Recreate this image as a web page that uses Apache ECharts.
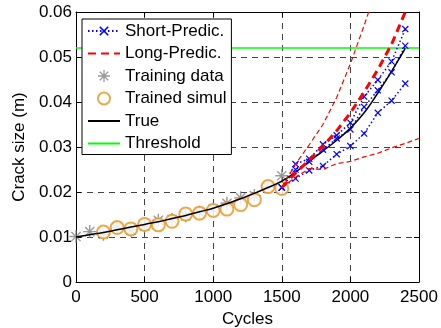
<!DOCTYPE html>
<html>
<head>
<meta charset="utf-8">
<script src="https://cdn.jsdelivr.net/npm/echarts@6/dist/echarts.min.js"></script>
<style>
html, body { margin: 0; padding: 0; background: #fff; }
#chart { width: 441px; height: 328px; }
</style>
</head>
<body>
<div id="chart"></div>
<script>
// training measurements (gray stars)
var trainCycles = [0, 100, 200, 300, 400, 500, 600, 700, 800, 900, 1000, 1100, 1200, 1300, 1400, 1500];
var trainData = [0.0101, 0.0112, 0.0106, 0.0121, 0.0115, 0.0124, 0.0137, 0.0139, 0.0147, 0.0155, 0.0162, 0.0175, 0.0187, 0.0192, 0.0211, 0.0236];

// trained simulation (orange circles)
var simulCycles = [200, 300, 400, 500, 600, 700, 800, 900, 1000, 1100, 1200, 1300, 1400, 1500];
var simulData = [0.0111, 0.0121, 0.0118, 0.0128, 0.0127, 0.0135, 0.0151, 0.0153, 0.0159, 0.0162, 0.0172, 0.0183, 0.0212, 0.0208];

// true crack growth
var trueCycles = [0, 100, 200, 300, 400, 500, 600, 700, 800, 900, 1000, 1100, 1200, 1300, 1400, 1500, 1600, 1700, 1800, 1900, 2000, 2100, 2200, 2300, 2400];
var trueCrack = [0.0100, 0.0105, 0.0110, 0.0116, 0.0122, 0.0128, 0.0134, 0.0141, 0.0148, 0.0156, 0.0164, 0.0174, 0.0185, 0.0197, 0.0210, 0.0224, 0.0244, 0.0268, 0.0291, 0.0315, 0.0342, 0.0376, 0.0420, 0.0468, 0.0519];

// short-term prediction (blue)
var shortCycles = [1500, 1600, 1700, 1800, 1900, 2000, 2100, 2200, 2300, 2400];
var shortUpper = [0.0210, 0.0262, 0.0274, 0.0306, 0.0326, 0.0354, 0.0412, 0.0449, 0.0490, 0.0562];
var shortMid = [0.0210, 0.0250, 0.0267, 0.0294, 0.0319, 0.0339, 0.0389, 0.0426, 0.0466, 0.0525];
var shortLower = [0.0210, 0.0230, 0.0248, 0.0258, 0.0284, 0.0302, 0.0330, 0.0376, 0.0403, 0.0441];

// long-term prediction (red)
var longCycles = [1500, 1600, 1700, 1800, 1900, 2000, 2100, 2200, 2300, 2400, 2500];
var longMid = [0.0210, 0.0242, 0.0271, 0.0302, 0.0336, 0.0376, 0.0422, 0.0472, 0.0528, 0.0600, null];
var longUpper = [0.0210, 0.0262, 0.0305, 0.0350, 0.0410, 0.0485, 0.0570, 0.0660, null, null, null];
var longLower = [0.0210, 0.0233, 0.0252, 0.0250, 0.0263, 0.0268, 0.0278, 0.0286, 0.0298, 0.0308, 0.0319];

var thresholdCycles = [0, 2500];
var threshold = 0.052;

var xTicks = [0, 500, 1000, 1500, 2000, 2500];
var yTicks = [0, 0.01, 0.02, 0.03, 0.04, 0.05, 0.06];

function pairs(xs, ys) {
    var out = [];
    for (var i = 0; i < xs.length; i++) {
        out.push([xs[i], ys[i]]);
    }
    return out;
}

var FONT = '"Liberation Sans", Arial, sans-serif';
var starPath = 'path://M-1.1,-10L1.1,-10L1.1,10L-1.1,10Z M-10,-1.1L10,-1.1L10,1.1L-10,1.1Z M-6.3,-7.8L7.8,6.3L6.3,7.8L-7.8,-6.3Z M6.3,-7.8L7.8,-6.3L-6.3,7.8L-7.8,6.3Z';
var crossPath = 'path://M-5,-3.8L-3.8,-5L5,3.8L3.8,5Z M3.8,-5L5,-3.8L-3.8,5L-5,3.8Z';
var hideSymbol = { color: 'rgba(0,0,0,0)', borderWidth: 0, opacity: 0 };

function blueLine(ys) {
    return {
        name: 'Short-Predic.',
        type: 'line',
        data: pairs(shortCycles, ys),
        symbol: crossPath,
        symbolSize: 7,
        showAllSymbol: true,
        itemStyle: { color: '#0000ff' },
        lineStyle: { color: '#0000ff', width: 1.5, type: [1.5, 2.5] },
        z: 4
    };
}

function redLine(ys, w, dash) {
    return {
        name: 'Long-Predic.',
        type: 'line',
        data: pairs(longCycles, ys),
        symbol: 'none',
        itemStyle: { color: '#ff0000' },
        lineStyle: { color: '#ff0000', width: w, type: dash },
        z: 5
    };
}

var gridLine = { show: true, lineStyle: { color: '#444', width: 1, type: [6, 5] } };
var blackLine = { show: true, onZero: false, lineStyle: { color: '#000', width: 1 } };
var inTick = { show: true, inside: true, length: 5, lineStyle: { color: '#000' } };

var myChart = echarts.init(document.getElementById('chart'), null, { renderer: 'canvas' });
var option = {
    animation: false,
    backgroundColor: '#fff',
    textStyle: { fontFamily: FONT },
    grid: { left: 76, top: 12, width: 343, height: 270, outerBoundsMode: 'none', containLabel: false },
    legend: {
        orient: 'vertical',
        left: 82,
        top: 19,
        padding: [2, 5, 1, 5],
        itemGap: 2.5,
        itemWidth: 32,
        itemHeight: 12,
        backgroundColor: '#fff',
        borderColor: '#000',
        borderWidth: 1,
        borderRadius: 0,
        textStyle: { fontFamily: FONT, fontSize: 17, color: '#000', lineHeight: 20 },
        data: [
            'Short-Predic.',
            { name: 'Long-Predic.', itemStyle: hideSymbol },
            'Training data',
            'Trained simul',
            { name: 'True', itemStyle: hideSymbol },
            { name: 'Threshold', itemStyle: hideSymbol }
        ]
    },
    xAxis: [{
        type: 'value',
        min: xTicks[0],
        max: xTicks[xTicks.length - 1],
        interval: 500,
        name: 'Cycles',
        nameLocation: 'middle',
        nameGap: 27,
        nameTextStyle: { fontFamily: FONT, fontSize: 17, color: '#000' },
        axisLine: blackLine,
        axisTick: inTick,
        axisLabel: { fontFamily: FONT, fontSize: 17, color: '#000', margin: 7,
            formatter: function (v) { return String(v); } },
        splitLine: gridLine
    }, {
        type: 'value',
        position: 'top',
        min: xTicks[0],
        max: xTicks[xTicks.length - 1],
        interval: 500,
        axisLine: blackLine,
        axisTick: inTick,
        axisLabel: { show: false },
        splitLine: { show: false }
    }],
    yAxis: [{
        type: 'value',
        min: yTicks[0],
        max: yTicks[yTicks.length - 1],
        interval: 0.01,
        name: 'Crack size (m)',
        nameLocation: 'middle',
        nameGap: 38,
        nameTextStyle: { fontFamily: FONT, fontSize: 17, color: '#000' },
        axisLine: blackLine,
        axisTick: inTick,
        axisLabel: { fontFamily: FONT, fontSize: 17, color: '#000', margin: 4 },
        splitLine: gridLine
    }, {
        type: 'value',
        position: 'right',
        min: yTicks[0],
        max: yTicks[yTicks.length - 1],
        interval: 0.01,
        axisLine: blackLine,
        axisTick: inTick,
        axisLabel: { show: false },
        splitLine: { show: false }
    }],
    series: [
        blueLine(shortMid),
        blueLine(shortUpper),
        blueLine(shortLower),
        redLine(longMid, 3, [8, 5]),
        redLine(longUpper, 1.2, [5, 3]),
        redLine(longLower, 1.2, [5, 3]),
        {
            name: 'Training data',
            type: 'scatter',
            data: pairs(trainCycles, trainData),
            symbol: starPath,
            symbolSize: 13,
            itemStyle: { color: '#7f7f7f' },
            z: 3
        },
        {
            name: 'Trained simul',
            type: 'scatter',
            data: pairs(simulCycles, simulData),
            symbol: 'emptyCircle',
            symbolSize: 13,
            itemStyle: { color: '#e8921e', borderWidth: 1.2 },
            z: 3
        },
        {
            name: 'True',
            type: 'line',
            data: pairs(trueCycles, trueCrack),
            symbol: 'none',
            smooth: true,
            itemStyle: { color: '#000' },
            lineStyle: { color: '#000', width: 1.5 },
            z: 4
        },
        {
            name: 'Threshold',
            type: 'line',
            data: pairs(thresholdCycles, [threshold, threshold]),
            symbol: 'none',
            itemStyle: { color: '#00ff00' },
            lineStyle: { color: '#00ff00', width: 1.5 },
            z: 2
        }
    ]
};

myChart.setOption(option);
</script>
</body>
</html>
